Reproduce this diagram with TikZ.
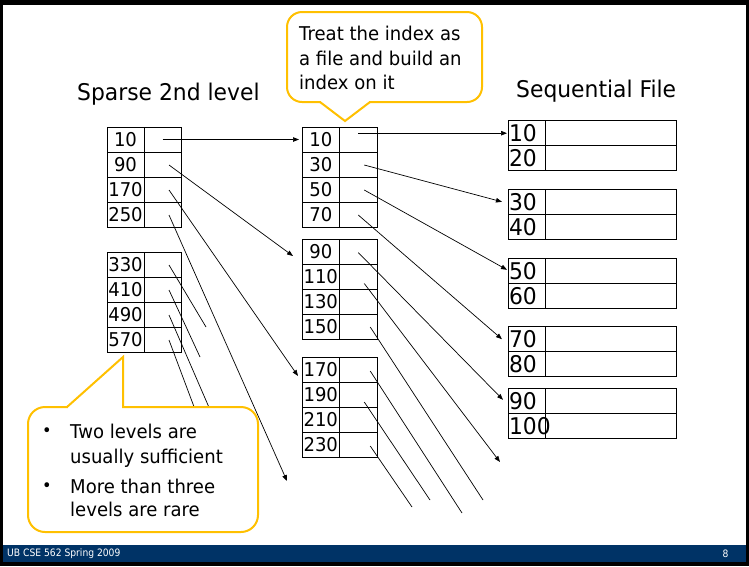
\documentclass[tikz,border=0pt]{standalone}
\usepackage{fontspec}
\setmainfont{DejaVu Sans}[FakeStretch=0.95]
\newfontfamily\footfont{DejaVu Sans}[FakeStretch=0.9]
\usetikzlibrary{arrows.meta,calc}
\definecolor{calloutgold}{RGB}{255,192,0}
\definecolor{footerblue}{RGB}{0,51,102}

\begin{document}
\begin{tikzpicture}[x=1pt,y=-1pt,
  cell/.style={draw, line width=0.9pt, inner sep=0pt, outer sep=0pt,
               anchor=north west, minimum height=25pt},
  idxkey/.style={cell, minimum width=37pt, font=\fontsize{19}{19}\selectfont},
  idxptr/.style={cell, minimum width=37pt},
  seqkey/.style={cell, minimum width=37pt, text width=35pt, align=left,
                 inner xsep=1pt, font=\fontsize{23}{23}\selectfont},
  seqrec/.style={cell, minimum width=131pt},
  conn/.style={line width=0.7pt},
  ptr/.style={conn, -{Triangle[length=6pt,width=4.5pt]}},
  title/.style={inner sep=0pt, anchor=base west, font=\fontsize{23}{23}\selectfont},
  note/.style={inner sep=0pt, anchor=base west, font=\fontsize{19}{19}\selectfont},
  bullet/.style={inner sep=0pt, anchor=base west, font=\fontsize{17}{17}\selectfont},
  callout/.style={draw=calloutgold, line width=2pt, fill=white, rounded corners=15pt},
  calloutedge/.style={draw=calloutgold, line width=2pt, line join=miter},
  foot/.style={inner sep=0pt, text=white, font=\footfont\fontsize{10.2}{10.2}\selectfont}
]
\useasboundingbox (0,0) rectangle (749,566);

% slide frame and footer bar
\fill[black] (0,0) rectangle (749,566);
\fill[white] (2.5,4.5) rectangle (746,562);
\fill[footerblue] (2.5,545) rectangle (746,562);
\node[foot, anchor=west] (footleft) at (7,553.5) {UB CSE 562 Spring 2009};
\node[foot] (pageno) at (725.5,553.5) {8};

% headings
\node[title] (sparsetitle) at (77,100) {Sparse 2nd level};
\node[title] (seqtitle) at (516,97) {Sequential File};

% sparse second-level index
\foreach \v [count=\i] in {10,90,170,250} {
  \node[idxkey] (sa\i) at (107,{127+25*(\i-1)}) {\v};
  \node[idxptr] (sa\i-p) at (144,{127+25*(\i-1)}) {};
}
\foreach \v [count=\i] in {330,410,490,570} {
  \node[idxkey] (sb\i) at (107,{252+25*(\i-1)}) {\v};
  \node[idxptr] (sb\i-p) at (144,{252+25*(\i-1)}) {};
}

% first-level index blocks
\foreach \v [count=\i] in {10,30,50,70} {
  \node[idxkey, minimum width=37.5pt] (ia\i) at (302,{127+25*(\i-1)}) {\v};
  \node[idxptr, minimum width=37.5pt] (ia\i-p) at (339.5,{127+25*(\i-1)}) {};
}
\foreach \v [count=\i] in {90,110,130,150} {
  \node[idxkey, minimum width=37.5pt] (ib\i) at (302,{239.5+25*(\i-1)}) {\v};
  \node[idxptr, minimum width=37.5pt] (ib\i-p) at (339.5,{239.5+25*(\i-1)}) {};
}
\foreach \v [count=\i] in {170,190,210,230} {
  \node[idxkey, minimum width=37.5pt] (ic\i) at (302,{357.5+25*(\i-1)}) {\v};
  \node[idxptr, minimum width=37.5pt] (ic\i-p) at (339.5,{357.5+25*(\i-1)}) {};
}

% sequential file blocks
\foreach \t/\a/\b [count=\j] in {120.7/10/20, 189.3/30/40, 258.3/50/60, 326.7/70/80, 388.3/90/100} {
  \node[seqkey] (q\j-a) at (508,\t) {\a};
  \node[seqrec] (q\j-a-r) at (545,\t) {};
  \node[seqkey] (q\j-b) at (508,{\t+25}) {\b};
  \node[seqrec] (q\j-b-r) at (545,{\t+25}) {};
}

% loose ends of pointers that run off the drawing
\coordinate (e250) at (287,481);
\coordinate (e330) at (206,327);
\coordinate (e410) at (200,357);
\coordinate (e490) at (211,412);
\coordinate (e570) at (196,412);
\coordinate (e110) at (500,462);
\coordinate (e150) at (483,500);
\coordinate (e170) at (462,513);
\coordinate (e190) at (430,500);
\coordinate (e230) at (412,507);

% pointers from the sparse index
\draw[ptr] (sa1-p.center) -- ([xshift=-3pt]ia1.west);
\draw[ptr] ($(sa2-p.center)+(6.5,0.5)$) -- ($(ib1.west)+(-9,4)$);
\draw[ptr] ($(sa3-p.center)+(6.5,0.5)$) -- ($(ic1.west)+(-4,6)$);
\draw[ptr] ($(sa4-p.center)+(6.5,0.5)$) -- (e250);
\draw[conn] ($(sb1-p.center)+(6.5,0.5)$) -- (e330);
\draw[conn] ($(sb2-p.center)+(6.5,0.5)$) -- (e410);
\draw[conn] ($(sb3-p.center)+(6.5,0.5)$) -- (e490);
\draw[conn] ($(sb4-p.center)+(6.5,0.5)$) -- (e570);

% pointers from the first-level index
\draw[ptr] (ia1-p.center |- q1-a.west) -- ([xshift=-1pt]q1-a.west);
\draw[ptr] ($(ia2-p.center)+(6,0.5)$) -- ($(q2-a.west)+(-6,0)$);
\draw[ptr] ($(ia3-p.center)+(6,0.5)$) -- ($(q3-a.west)+(-1,-1)$);
\draw[ptr] ($(ia4-p.center)+(0,0.5)$) -- ($(q4-a.west)+(-6,0)$);
\draw[ptr] ($(ib1-p.center)+(0,0.5)$) -- ($(q5-a.west)+(-5,-1)$);
\draw[ptr] ($(ib2-p.center)+(6,6.5)$) -- (e110);
\draw[conn] ($(ib4-p.center)+(12,0)$) -- (e150);
\draw[conn] ($(ic1-p.center)+(12,1)$) -- (e170);
\draw[conn] ($(ic2-p.center)+(6,7)$) -- (e190);
\draw[conn] ($(ic4-p.center)+(12,1)$) -- (e230);

% callout above the first-level index
\draw[callout] (287,12) rectangle (482,102);
\fill[white] (321,99) rectangle (369,104.5);
\draw[calloutedge] (320,102) -- (345,121) -- (370,102);
\node[note] (tn1) at (299,40.7) {Treat the index as};
\node[note] (tn2) at (299,65) {a file and build an};
\node[note] (tn3) at (299,89.3) {index on it};

% callout below the sparse index
\draw[callout, rounded corners=17pt] (28,407) rectangle (258,532);
\fill[white] (68,404) rectangle (122,410);
\draw[calloutedge] (67,407) -- (123,357) -- (123,407);
\node[bullet] (bu1) at (42,436.5) {•};
\node[note] (bn1) at (70,438.3) {Two levels are};
\node[note] (bn2) at (70,463.3) {usually sufficient};
\node[bullet] (bu2) at (42,491.5) {•};
\node[note] (bn3) at (70,493.3) {More than three};
\node[note] (bn4) at (70,516.7) {levels are rare};
\end{tikzpicture}
\end{document}
